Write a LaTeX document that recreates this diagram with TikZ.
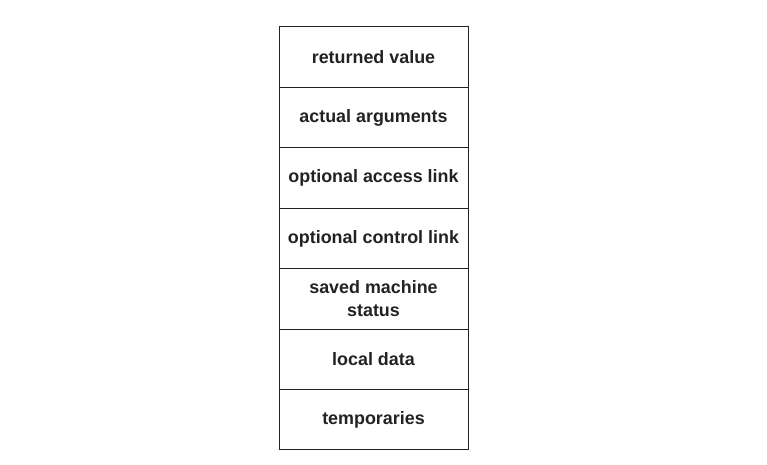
\documentclass[tikz,border=0pt]{standalone}
\usepackage{fontspec}
\setmainfont{Liberation Sans}
\usepackage{tikz}
\usetikzlibrary{positioning}
\definecolor{inkgray}{HTML}{222222}

\begin{document}
\begin{tikzpicture}[
      x=1pt, y=1pt,
      node distance=0pt,
      frame/.style={draw=inkgray, line width=1pt, align=center, text=inkgray,
                    minimum width=189pt, minimum height=60.4pt, inner sep=0pt, outer sep=0pt,
                    font=\fontsize{17.9}{23}\selectfont\bfseries}]
    \useasboundingbox (0,0) rectangle (767,464);
    \node[frame, anchor=north] (retval) at (373.5,437) {returned value};
    \node[frame, below=of retval] (args) {actual arguments};
    \node[frame, below=of args] (access) {optional access link};
    \node[frame, below=of access] (control) {optional control link};
    \node[frame, below=of control] (status) {saved machine\\ status};
    \node[frame, below=of status] (local) {local data};
    \node[frame, below=of local] (temps) {temporaries};
  \end{tikzpicture}
\end{document}
